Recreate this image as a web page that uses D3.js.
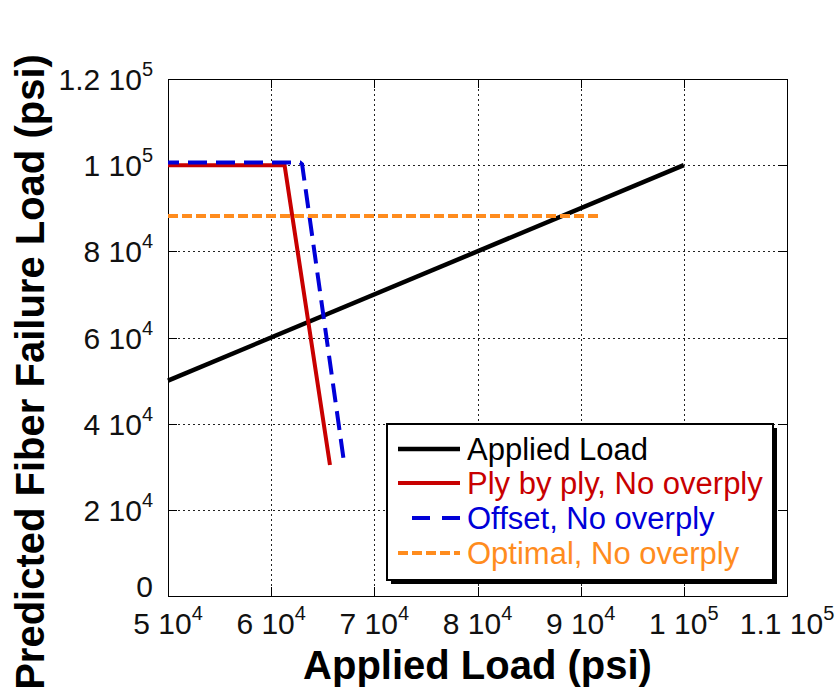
<!DOCTYPE html>
<html>
<head>
<meta charset="utf-8">
<script src="https://cdn.jsdelivr.net/npm/d3@7"></script>
<style>
  html, body { margin: 0; padding: 0; background: #fff; }
  svg { display: block; font-family: "Liberation Sans", Arial, sans-serif; }
</style>
</head>
<body>
<svg id="chart" width="838" height="690"></svg>
<script>
// Series (psi)
const appliedX = [50000, 100000];
const appliedY = [50000, 100000];
const plyX = [50000, 61300, 65700];
const plyY = [100000, 100000, 30400];
const offsetX = [50000, 62800, 63000, 67100];
const offsetY = [100600, 100600, 100200, 30400];
const optimalX = [50000, 91800];
const optimalY = [88200, 88200];

// Axis ticks and their labels (mantissa × 10^exponent)
const xTicks = [50000, 60000, 70000, 80000, 90000, 100000, 110000];
const xTickMant = ["5", "6", "7", "8", "9", "1", "1.1"];
const xTickExp = ["4", "4", "4", "4", "4", "5", "5"];
const yTicks = [0, 20000, 40000, 60000, 80000, 100000, 120000];
const yTickMant = ["0", "2", "4", "6", "8", "1", "1.2"];
const yTickExp = ["", "4", "4", "4", "4", "5", "5"];

const seriesNames = ["Applied Load", "Ply by ply, No overply", "Offset, No overply", "Optimal, No overply"];

const svg = d3.select("#chart");
const L = 168, T = 79, R = 787, B = 596;
const x = d3.scaleLinear().domain([50000, 110000]).range([L, R]);
const y = d3.scaleLinear().domain([0, 120000]).range([B, T]);

// dotted grid
const grid = svg.append("g").attr("stroke", "#222").attr("stroke-width", 1)
  .attr("stroke-dasharray", "2,3");
grid.selectAll("line.gx").data(xTicks.slice(1, -1)).join("line")
  .attr("x1", d => Math.round(x(d)) + 0.5).attr("x2", d => Math.round(x(d)) + 0.5)
  .attr("y1", T).attr("y2", B);
grid.selectAll("line.gy").data(yTicks.slice(1, -1)).join("line")
  .attr("y1", d => Math.round(y(d)) + 0.5).attr("y2", d => Math.round(y(d)) + 0.5)
  .attr("x1", L).attr("x2", R);

// inward ticks on all four sides
const tickLen = 9;
const tk = svg.append("g").attr("stroke", "#000").attr("stroke-width", 1);
xTicks.forEach(v => {
  const px = Math.round(x(v)) + 0.5;
  tk.append("line").attr("x1", px).attr("x2", px).attr("y1", B).attr("y2", B - tickLen);
  tk.append("line").attr("x1", px).attr("x2", px).attr("y1", T).attr("y2", T + tickLen);
});
yTicks.forEach(v => {
  const py = Math.round(y(v)) + 0.5;
  tk.append("line").attr("y1", py).attr("y2", py).attr("x1", L).attr("x2", L + tickLen);
  tk.append("line").attr("y1", py).attr("y2", py).attr("x1", R).attr("x2", R - tickLen);
});

// frame
svg.append("rect").attr("x", L + 0.5).attr("y", T + 0.5)
  .attr("width", R - L).attr("height", B - T)
  .attr("fill", "none").attr("stroke", "#000").attr("stroke-width", 1);

// tick labels
const tickFont = 30, supFont = 20;
function sciLabel(g, mant, exp, anchor) {
  const t = g.append("text").attr("text-anchor", anchor)
    .attr("font-size", tickFont).attr("fill", "#111");
  t.append("tspan").text(exp ? mant + " 10" : mant);
  if (exp) t.append("tspan").attr("font-size", supFont).attr("dy", -14).text(exp);
  return t;
}
const xl = svg.append("g");
xTicks.forEach((v, i) => {
  sciLabel(xl, xTickMant[i], xTickExp[i], "middle")
    .attr("x", x(v)).attr("y", 634);
});
const yl = svg.append("g");
yTicks.forEach((v, i) => {
  sciLabel(yl, yTickMant[i], yTickExp[i], "end")
    .attr("x", 153).attr("y", y(v) + (yTickExp[i] ? 11 : 1));
});

// axis titles
svg.append("text").attr("x", (L + R) / 2).attr("y", 679)
  .attr("text-anchor", "middle").attr("font-size", 40).attr("font-weight", "bold")
  .text("Applied Load (psi)");
svg.append("text").attr("transform", "translate(44,372) rotate(-90)")
  .attr("text-anchor", "middle").attr("font-size", 40).attr("font-weight", "bold")
  .text("Predicted Fiber Failure Load (psi)");

// data lines
const line = d3.line().x(d => x(d[0])).y(d => y(d[1]));
const zip = (xs, ys) => xs.map((v, i) => [v, ys[i]]);
const colors = ["#000000", "#c80000", "#0000d8", "#ff8c1e"];
const widths = [4.5, 4, 4, 4];
const dashes = [null, null, "19,9", "10,4"];
const series = [zip(appliedX, appliedY), zip(plyX, plyY), zip(offsetX, offsetY), zip(optimalX, optimalY)];
series.forEach((s, i) => {
  svg.append("path").datum(s).attr("d", line)
    .attr("fill", "none").attr("stroke", colors[i]).attr("stroke-width", widths[i])
    .attr("stroke-dasharray", dashes[i]).attr("stroke-dashoffset", i === 2 ? 8 : 0);
});

// legend with drop shadow
const lg = svg.append("g");
const lx = 387, ly = 424, lw = 386, lh = 156;
lg.append("rect").attr("x", lx + 4).attr("y", ly + 4).attr("width", lw).attr("height", lh).attr("fill", "#000");
lg.append("rect").attr("x", lx).attr("y", ly).attr("width", lw).attr("height", lh)
  .attr("fill", "#fff").attr("stroke", "#000").attr("stroke-width", 2);
const rowY = [449, 483, 518, 553];
seriesNames.forEach((name, i) => {
  const yy = rowY[i];
  const sx1 = i === 2 ? 412 : 398;
  lg.append("line").attr("x1", sx1).attr("x2", 460).attr("y1", yy).attr("y2", yy)
    .attr("stroke", colors[i]).attr("stroke-width", widths[i])
    .attr("stroke-dasharray", i === 2 ? "18,12" : dashes[i]);
  lg.append("text").attr("x", 467).attr("y", yy + 11)
    .attr("font-size", 31).attr("fill", colors[i]).text(name);
});
</script>
</body>
</html>
